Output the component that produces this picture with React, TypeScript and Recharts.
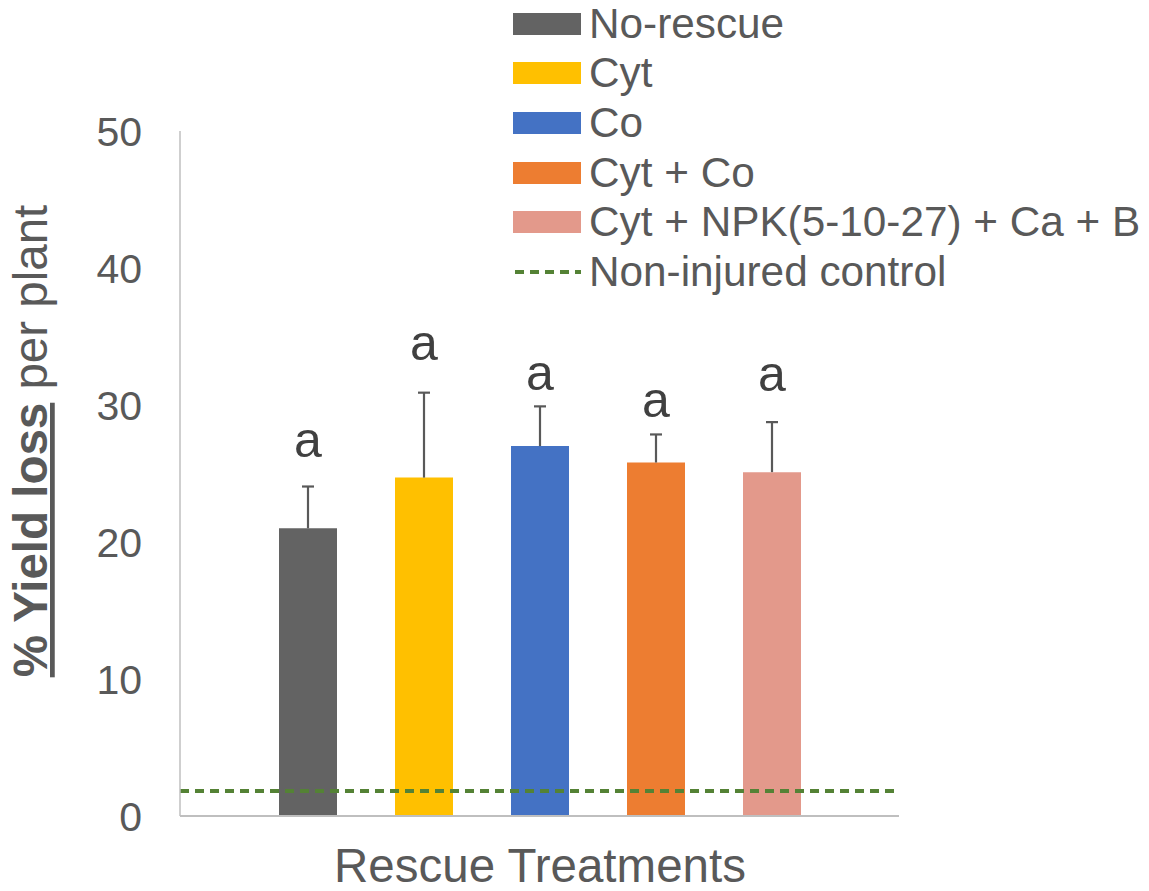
import React from 'react';
import {
  BarChart,
  Bar,
  XAxis,
  YAxis,
  Legend,
  LabelList,
  Label,
  ReferenceLine,
} from 'recharts';

const treatments = ['No-rescue', 'Cyt', 'Co', 'Cyt + Co', 'Cyt + NPK(5-10-27) + Ca + B'];
const yieldLoss = [21.0, 24.7, 27.0, 25.8, 25.1];
const errorPlus = [3.05, 6.2, 2.9, 2.05, 3.65];
const letters = ['a', 'a', 'a', 'a', 'a'];
const letterPos = [26.2, 33.3, 31.1, 29.1, 31.0];
const controlLevel = 1.83;
const controlName = 'Non-injured control';
const yTicks = [0, 10, 20, 30, 40, 50];
const colors = ['#636363', '#FFC000', '#4472C4', '#ED7D31', '#E3998B'];

const FONT = '"Liberation Sans", Arial, sans-serif';
const TEXT = '#595959';

const row: Record<string, any> = { group: 'Rescue Treatments' };
treatments.forEach((t, i) => {
  row['s' + i] = yieldLoss[i];
});
const data = [row];

// error whisker (plus only) + significance letter, scaled from the bar's own geometry
const makeMarks = (i: number) => (p: any) => {
  const vb = p.viewBox ?? p;
  const { x, y, width, height } = vb;
  const v = yieldLoss[i];
  if (!height || !v) return null;
  const unit = height / v;
  const cx = x + width / 2;
  const top = y - errorPlus[i] * unit;
  const base = y + height;
  const ly = base - letterPos[i] * unit;
  return (
    <g>
      <line x1={cx} x2={cx} y1={y} y2={top} stroke={TEXT} strokeWidth={2.2} />
      <line x1={cx - 6} x2={cx + 6} y1={top} y2={top} stroke={TEXT} strokeWidth={2.2} />
      <text x={cx} y={ly} textAnchor="middle" fontSize={50} fill="#404040" fontFamily={FONT}>
        {letters[i]}
      </text>
    </g>
  );
};

const LegendBox = () => (
  <div style={{ fontFamily: FONT, fontSize: 42.3, color: TEXT }}>
    {treatments.map((t, i) => (
      <div key={t} style={{ display: 'flex', alignItems: 'center', height: 49.6, whiteSpace: 'nowrap' }}>
        <div style={{ width: 68, height: 22, background: colors[i], marginRight: 8 }} />
        <span>{t}</span>
      </div>
    ))}
    <div style={{ display: 'flex', alignItems: 'center', height: 49.6, whiteSpace: 'nowrap' }}>
      <svg width={68} height={22} style={{ marginRight: 8 }}>
        <line x1={2} x2={68} y1={11} y2={11} stroke="#548235" strokeWidth={4} strokeDasharray="9 6" />
      </svg>
      <span>{controlName}</span>
    </div>
  </div>
);

const YTitle = () => (
  <text
    x={47}
    y={441}
    transform="rotate(-90, 47, 441)"
    textAnchor="middle"
    fontSize={47.5}
    fill={TEXT}
    fontFamily={FONT}
  >
    <tspan fontWeight="bold" textDecoration="underline">% Yield loss</tspan>
    <tspan> per plant</tspan>
  </text>
);

const XTitle = () => (
  <text x={540} y={882} textAnchor="middle" fontSize={47.5} fill={TEXT} fontFamily={FONT}>
    Rescue Treatments
  </text>
);

export default function App() {
  return (
    <div style={{ position: 'absolute', left: 0, top: 0, width: 1149, height: 891, background: '#fff' }}>
      <BarChart
        width={1149}
        height={891}
        data={data}
        margin={{ top: 131, right: 250, left: 170, bottom: 65 }}
        barSize={58}
        barGap={58}
        barCategoryGap={0}
      >
        <XAxis
          dataKey="group"
          tick={false}
          tickLine={false}
          height={10}
          axisLine={{ stroke: '#BFBFBF', strokeWidth: 2 }}
        >
          <Label content={<XTitle />} />
        </XAxis>
        <YAxis
          domain={[0, 50]}
          ticks={yTicks}
          width={10}
          tickLine={false}
          tickSize={0}
          tickMargin={38}
          axisLine={{ stroke: '#BFBFBF', strokeWidth: 1.5 }}
          tick={{ fontSize: 41, fill: TEXT, fontFamily: FONT }}
        >
          <Label content={<YTitle />} />
        </YAxis>
        <Legend
          layout="vertical"
          align="center"
          verticalAlign="middle"
          content={<LegendBox />}
          wrapperStyle={{ position: 'absolute', left: 513, top: -1, width: 636 }}
        />
        {treatments.map((t, i) => (
          <Bar key={t} dataKey={'s' + i} name={t} fill={colors[i]} isAnimationActive={false}>
            <LabelList dataKey={'s' + i} content={makeMarks(i)} />
          </Bar>
        ))}
        <ReferenceLine
          y={controlLevel}
          stroke="#548235"
          strokeWidth={4}
          strokeDasharray="9 6"
        />
      </BarChart>
    </div>
  );
}
